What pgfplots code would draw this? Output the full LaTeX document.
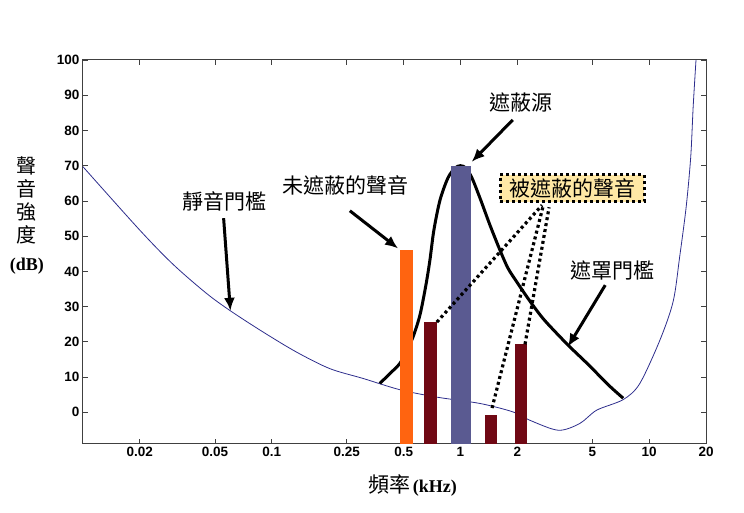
\documentclass[border=0pt]{standalone}
\usepackage{pgfplots}
\pgfplotsset{compat=1.18}
\usetikzlibrary{arrows.meta}
\usepackage{fontspec}
\setmainfont{Liberation Serif}
\newfontfamily\cjk{Noto Sans CJK TC}
\newfontfamily\ticksf{Liberation Sans}
\definecolor{thr}{RGB}{45,45,140}
\definecolor{org}{RGB}{255,100,16}
\definecolor{drd}{RGB}{112,8,20}
\definecolor{slate}{RGB}{90,90,145}
\definecolor{boxy}{RGB}{255,232,165}
\begin{document}
\begin{tikzpicture}[
  cjkt/.style={font=\cjk\fontsize{21}{21}\selectfont, inner sep=0pt},
  arr/.style={line width=3pt, black, -{Latex[length=13pt,width=11pt]}},
  dots/.style={line width=3.2pt, black, dash pattern=on 3pt off 3pt}]
\path[use as bounding box] (0,0) rectangle (744pt,513pt);
\begin{axis}[
  at={(83pt,69pt)}, anchor=south west, scale only axis,
  width=623pt, height=384pt,
  xmode=log, xmin=0.01, xmax=20, ymin=-9, ymax=100,
  xtick={0.02,0.05,0.1,0.25,0.5,1,2,5,10,20},
  xticklabels={0.02,0.05,0.1,0.25,0.5,1,2,5,10,20},
  minor xtick={},
  ytick={0,10,20,30,40,50,60,70,80,90,100},
  tick align=inside, major tick length=5pt,
  axis line style={black!75, line width=1pt},
  tick style={black!75, line width=0.8pt},
  ticklabel style={font=\ticksf\bfseries\fontsize{13.5}{13.5}\selectfont},
  /pgf/number format/assume math mode=true,
  clip=false,
  xlabel={{\cjk\fontsize{21}{21}\selectfont 頻率} {\bfseries\fontsize{18}{18}\selectfont (kHz)}},
  xlabel style={at={(axis description cs:0.529,-0.109)}, anchor=center},
  ylabel={聲\\音\\強\\度\\[5pt]{\rmfamily\bfseries\fontsize{18}{20}\selectfont (dB)}},
  ylabel style={rotate=-90, align=center, font=\cjk\fontsize{20}{23}\selectfont,
     at={(axis description cs:-0.0899,0.594)}, anchor=center},
]
% threshold in quiet
\addplot[thr, line width=0.8pt, smooth, tension=0.5] coordinates {
 (0.01,69.7) (0.02,51.7) (0.03,42) (0.045,33.8) (0.0604,28.8)
 (0.0899,22.8) (0.1352,17.1) (0.203,12.4) (0.305,9.6) (0.478,6.4) (0.75,4.3)
 (1.27,2.5) (1.9,0.1) (2.34,-2.3) (3.3,-5.1) (4.28,-3.2) (5.27,0.6) (7.28,3.6)
 (8.9,8.1) (11.4,20.5) (13.4,31.5) (14.5,44.1) (15.7,58.3) (16.6,72.5) (17.1,86.7) (17.7,100)};
% masking threshold
\addplot[black, line width=3pt, smooth, tension=0.5] coordinates {
 (0.374,8.2) (0.425,11.1) (0.478,13.9) (0.520,17.6) (0.560,21.3) (0.610,27.6)
 (0.656,36.1) (0.689,43.2) (0.723,51.7) (0.779,60.2) (0.858,66.5) (0.935,69.3)
 (1.0,70) (1.07,69.3) (1.151,66.5) (1.269,60.8) (1.434,53.1) (1.620,46.0)
 (1.786,40.9) (1.994,36.9) (2.337,31.5) (2.740,26.6) (3.25,22.3) (3.81,18.5)
 (4.58,14.4) (5.30,11.0) (6.21,7.3) (7.28,4.0)};
% bars
\addplot[fill=org, draw=none] coordinates {(0.478,-9) (0.478,46) (0.560,46) (0.560,-9)};
\addplot[fill=drd, draw=none] coordinates {(0.640,-9) (0.640,25.7) (0.750,25.7) (0.750,-9)};
\addplot[fill=slate, draw=none] coordinates {(0.891,-9) (0.891,70) (1.137,70) (1.137,-9)};
\addplot[fill=drd, draw=none] coordinates {(1.349,-9) (1.349,-0.9) (1.562,-0.9) (1.562,-9)};
\addplot[fill=drd, draw=none] coordinates {(1.946,-9) (1.946,19.5) (2.253,19.5) (2.253,-9)};
% dotted pointers
\draw[dots] (axis cs:0.75,25.6) -- (axis cs:2.706,58.8);
\draw[dots] (axis cs:1.47,1.2) -- (axis cs:2.75,58.8);
\draw[dots] (axis cs:2.198,19.3) -- (axis cs:2.948,58.2);
\node[cjkt, fill=boxy, draw=black, line width=3pt, dash pattern=on 3pt off 3pt,
      inner xsep=9pt, inner ysep=3pt, minimum height=27pt] at (axis cs:3.91,63.6) {被遮蔽的聲音};
% arrows
\draw[arr] (axis cs:0.0556,55.1) -- (axis cs:0.0604,28.8);
\draw[arr] (axis cs:0.2594,57.2) -- (axis cs:0.4673,46.5);
\draw[arr] (axis cs:1.893,83) -- (axis cs:1.147,71.1);
\draw[arr] (axis cs:5.85,36.1) -- (axis cs:3.71,18.6);
% labels
\node[cjkt] at (axis cs:0.0563,59.7) {靜音門檻};
\node[cjkt] at (axis cs:0.2455,64.5) {未遮蔽的聲音};
\node[cjkt] at (axis cs:2.09,87.8) {遮蔽源};
\node[cjkt] at (axis cs:6.43,40.3) {遮罩門檻};
\end{axis}
\end{tikzpicture}
\end{document}
